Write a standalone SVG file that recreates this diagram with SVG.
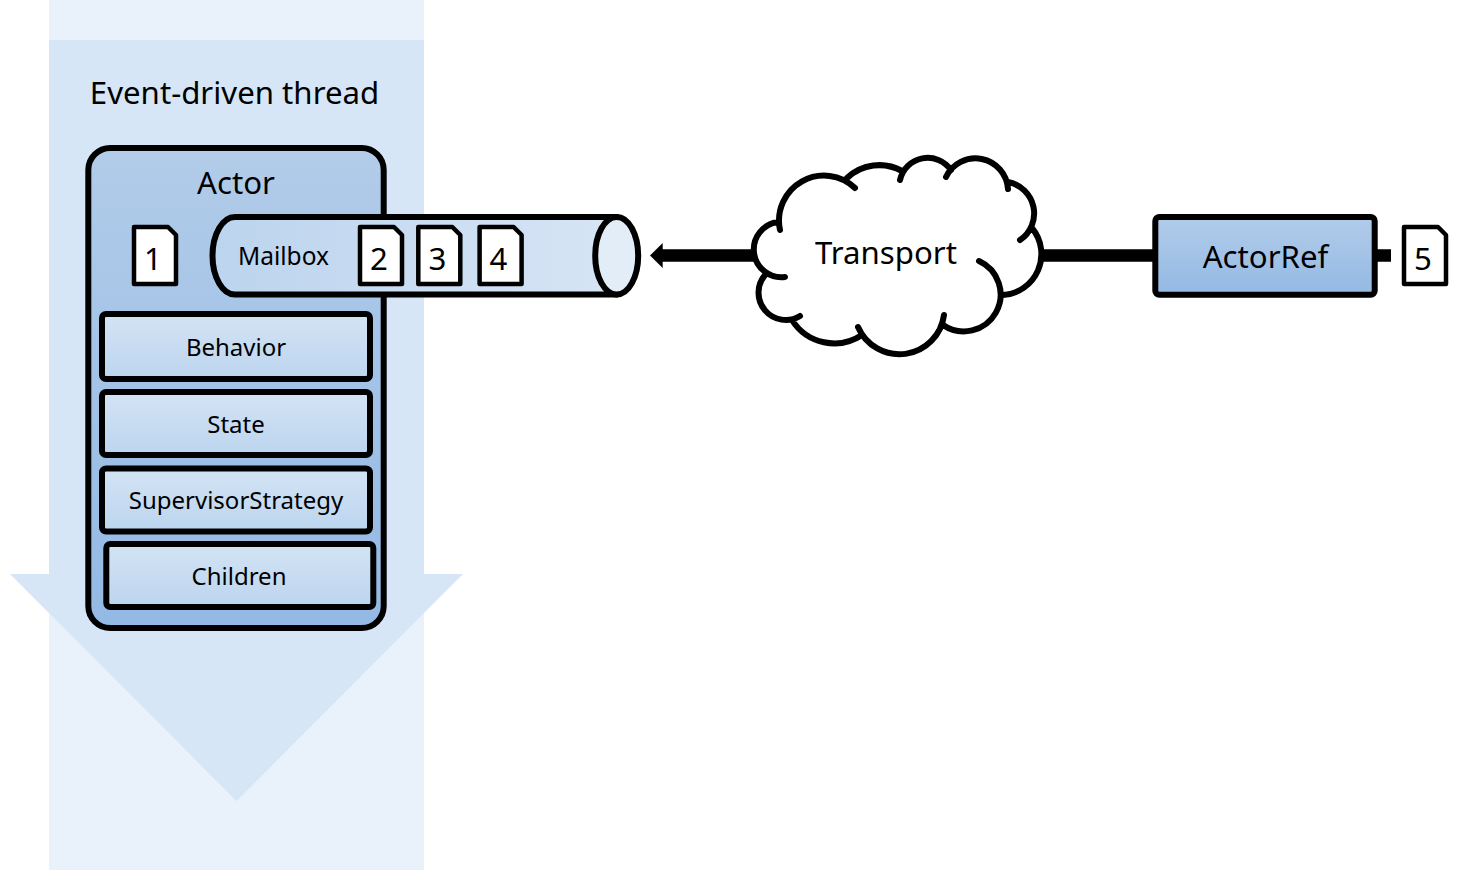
<svg xmlns="http://www.w3.org/2000/svg" width="1469" height="870" viewBox="0 0 1469 870">
<style>
text{font-family:"Noto Sans","Open Sans","Liberation Sans",sans-serif;fill:#000;text-anchor:middle}
.l{font-size:31.200px}.m{font-size:24px}
.s{stroke:#000;stroke-width:6px;stroke-linejoin:round}
.doc{fill:#fff;stroke:#000;stroke-width:4.500px;stroke-linejoin:round}
.bar{fill:url(#gBar)}
.dark{fill:url(#gDark)}
</style>
<defs>
<linearGradient id="gDark" x1="0" y1="0" x2="0" y2="1"><stop offset="0" stop-color="#b2cce9"/><stop offset="1" stop-color="#93b9e4"/></linearGradient>
<linearGradient id="gBar" x1="0" y1="0" x2="0" y2="1"><stop offset="0" stop-color="#d3e3f4"/><stop offset="1" stop-color="#bcd5ef"/></linearGradient>
<linearGradient id="gCyl" x1="0" y1="0" x2="1" y2="0"><stop offset="0" stop-color="#bcd4ee"/><stop offset="1" stop-color="#d7e5f5"/></linearGradient>
<path id="doc" d="M-21-28.500H13L21-20.500V28.500H-21Z"/>
</defs>
<rect x="49" y="0" width="375" height="870" fill="#e9f1fa"/>
<polygon points="49,40 424,40 424,574 463,574 236.500,801 10,574 49,574" fill="#d6e6f6"/>
<text x="234.500" y="104" class="l">Event-driven thread</text>
<g id="connectors">
<path d="M660 255.500H760" stroke="#000" stroke-width="12.500" fill="none"/>
<polygon points="650,255.500 662.700,243 662.700,268" fill="#000"/>
<path d="M1035 255.500H1160M1370 255.500H1391" stroke="#000" stroke-width="12.500" fill="none"/>
</g>
<g id="actor">
<rect class="s dark" x="88.300" y="148" width="295.400" height="480" rx="22"/>
<text x="236" y="194" class="l">Actor</text>
</g>
<g id="behavior"><rect class="s bar" x="102" y="314" width="268" height="65" rx="4"/><text x="236" y="356" class="m">Behavior</text></g>
<g id="state"><rect class="s bar" x="102" y="392" width="268" height="63" rx="4"/><text x="236" y="433" class="m">State</text></g>
<g id="supervisor"><rect class="s bar" x="102" y="468.500" width="268" height="63" rx="4"/><text x="236" y="509" class="m">SupervisorStrategy</text></g>
<g id="children"><rect class="s bar" x="106.300" y="544" width="267" height="63" rx="4"/><text x="239" y="585" class="m">Children</text></g>
<g id="mailbox">
<path class="s" fill="url(#gCyl)" d="M617 217H235A22.500 38.750 0 0 0 235 294.500H617Z"/>
<ellipse class="s" cx="616.700" cy="255.700" rx="21.500" ry="38.750" fill="#e3edf8"/>
<text x="283.500" y="265" class="m" style="font-size:24.500px">Mailbox</text>
</g>
<g id="msg1"><use href="#doc" x="155" y="255.500" class="doc"/><text x="153" y="270" class="l">1</text></g>
<g id="msg2"><use href="#doc" x="381" y="255.500" class="doc"/><text x="379" y="270" class="l">2</text></g>
<g id="msg3"><use href="#doc" x="439.300" y="255.500" class="doc"/><text x="437.500" y="270" class="l">3</text></g>
<g id="msg4"><use href="#doc" x="500.600" y="255.500" class="doc"/><text x="498.500" y="270" class="l">4</text></g>
<g id="transport">
<path fill="#fff" d="M855 188A45 45 0 0 0 780 230L778 222A27 27 0 0 0 785 277L765 275A27.300 27.300 0 0 0 800 316L792 320A50 50 0 0 0 862 335L858 327A45 45 0 0 0 944 315L943 325A36.850 36.850 0 1 0 979 261L1003 295A41 41 0 0 0 1032 228L1020 240A32 32 0 0 0 1008 182L1008 189A32.600 32.600 0 0 0 946 177L951 170A28.400 28.400 0 0 0 900 180L902 171A47 47 0 0 0 847 178Z"/>
<path fill="none" stroke="#000" stroke-width="6" stroke-linecap="round" d="M855 188A45 45 0 0 0 780 230M778 222A27 27 0 0 0 785 277M765 275A27.300 27.300 0 0 0 800 316M792 320A50 50 0 0 0 862 335M858 327A45 45 0 0 0 944 315M943 325A36.850 36.850 0 1 0 979 261M1003 295A41 41 0 0 0 1032 228M1020 240A32 32 0 0 0 1008 182M1008 189A32.600 32.600 0 0 0 946 177M951 170A28.400 28.400 0 0 0 900 180M902 171A47 47 0 0 0 847 178"/>
<text x="886" y="264" class="l">Transport</text>
</g>
<g id="actorref"><rect class="s dark" x="1155.300" y="217" width="219.400" height="77.700" rx="4"/><text x="1265.500" y="268" class="l">ActorRef</text></g>
<g id="msg5"><use href="#doc" x="1425" y="255.500" class="doc"/><text x="1423" y="270" class="l">5</text></g>
</svg>
